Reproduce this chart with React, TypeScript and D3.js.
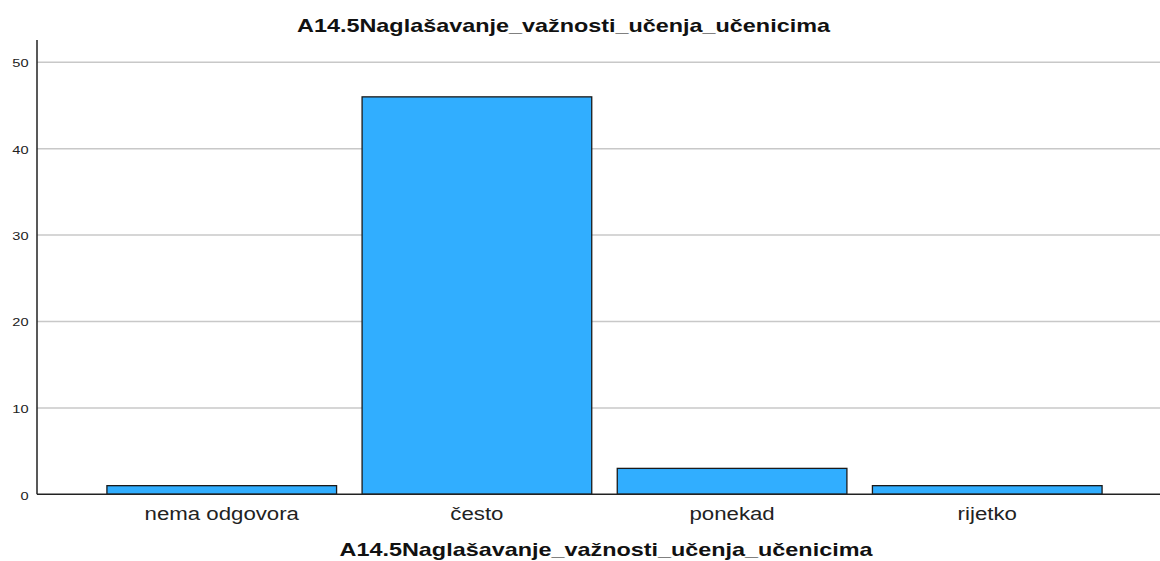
import React from "react";
import * as d3 from "d3";

const categories = ["nema odgovora", "često", "ponekad", "rijetko"];
const counts = [1, 46, 3, 1];
const yTicks = [0, 10, 20, 30, 40, 50];
const chartTitle = "A14.5Naglašavanje_važnosti_učenja_učenicima";
const xTitle = "A14.5Naglašavanje_važnosti_učenja_učenicima";

const W = 1160;
const H = 561;
const FONT = "'Liberation Sans', Arial, Helvetica, sans-serif";
const SX = 1.27;
const SXB = 1.3;

export default function App() {
  const x = d3
    .scaleBand<string>()
    .domain(categories)
    .range([37, 1172])
    .paddingInner(0.1)
    .paddingOuter(0.274);
  const y = d3.scaleLinear().domain([0, 50]).range([494.3, 62.3]);

  return (
    <svg
      width={W}
      height={H}
      style={{ position: "absolute", left: 0, top: 0, background: "#fff" }}
      fontFamily={FONT}
    >
      <text
        transform={`translate(563.5,31.5) scale(${SXB},1)`}
        textAnchor="middle"
        fontWeight="bold"
        fontSize={18}
        fill="#111"
      >
        {chartTitle}
      </text>
      {yTicks.slice(1).map((t) => (
        <line
          key={"g" + t}
          x1={37}
          x2={W}
          y1={y(t)}
          y2={y(t)}
          stroke="#c8c8c8"
          strokeWidth={1.5}
        />
      ))}
      {yTicks.map((t) => (
        <text
          key={"t" + t}
          transform={`translate(28.5,${y(t) + (t === 0 ? 2.5 : 1.8)}) scale(${SX},1)`}
          textAnchor="end"
          dominantBaseline="middle"
          fontSize={11.5}
          fill="#222"
        >
          {t}
        </text>
      ))}
      {categories.map((c, i) => (
        <rect
          key={c}
          x={x(c)}
          y={y(counts[i])}
          width={x.bandwidth()}
          height={y(0) - y(counts[i])}
          fill="#31aeff"
          stroke="#1a1a1a"
          strokeWidth={1.3}
        />
      ))}
      <line x1={37} x2={W} y1={y(0)} y2={y(0)} stroke="#222" strokeWidth={1.5} />
      <line x1={37} x2={37} y1={40} y2={y(0)} stroke="#222" strokeWidth={1.5} />
      {categories.map((c) => (
        <text
          key={"l" + c}
          transform={`translate(${(x(c) as number) + x.bandwidth() / 2},519.5) scale(${SX},1)`}
          textAnchor="middle"
          fontSize={17.5}
          fill="#222"
        >
          {c}
        </text>
      ))}
      <text
        transform={`translate(606,556) scale(${SXB},1)`}
        textAnchor="middle"
        fontWeight="bold"
        fontSize={18}
        fill="#111"
      >
        {xTitle}
      </text>
    </svg>
  );
}
